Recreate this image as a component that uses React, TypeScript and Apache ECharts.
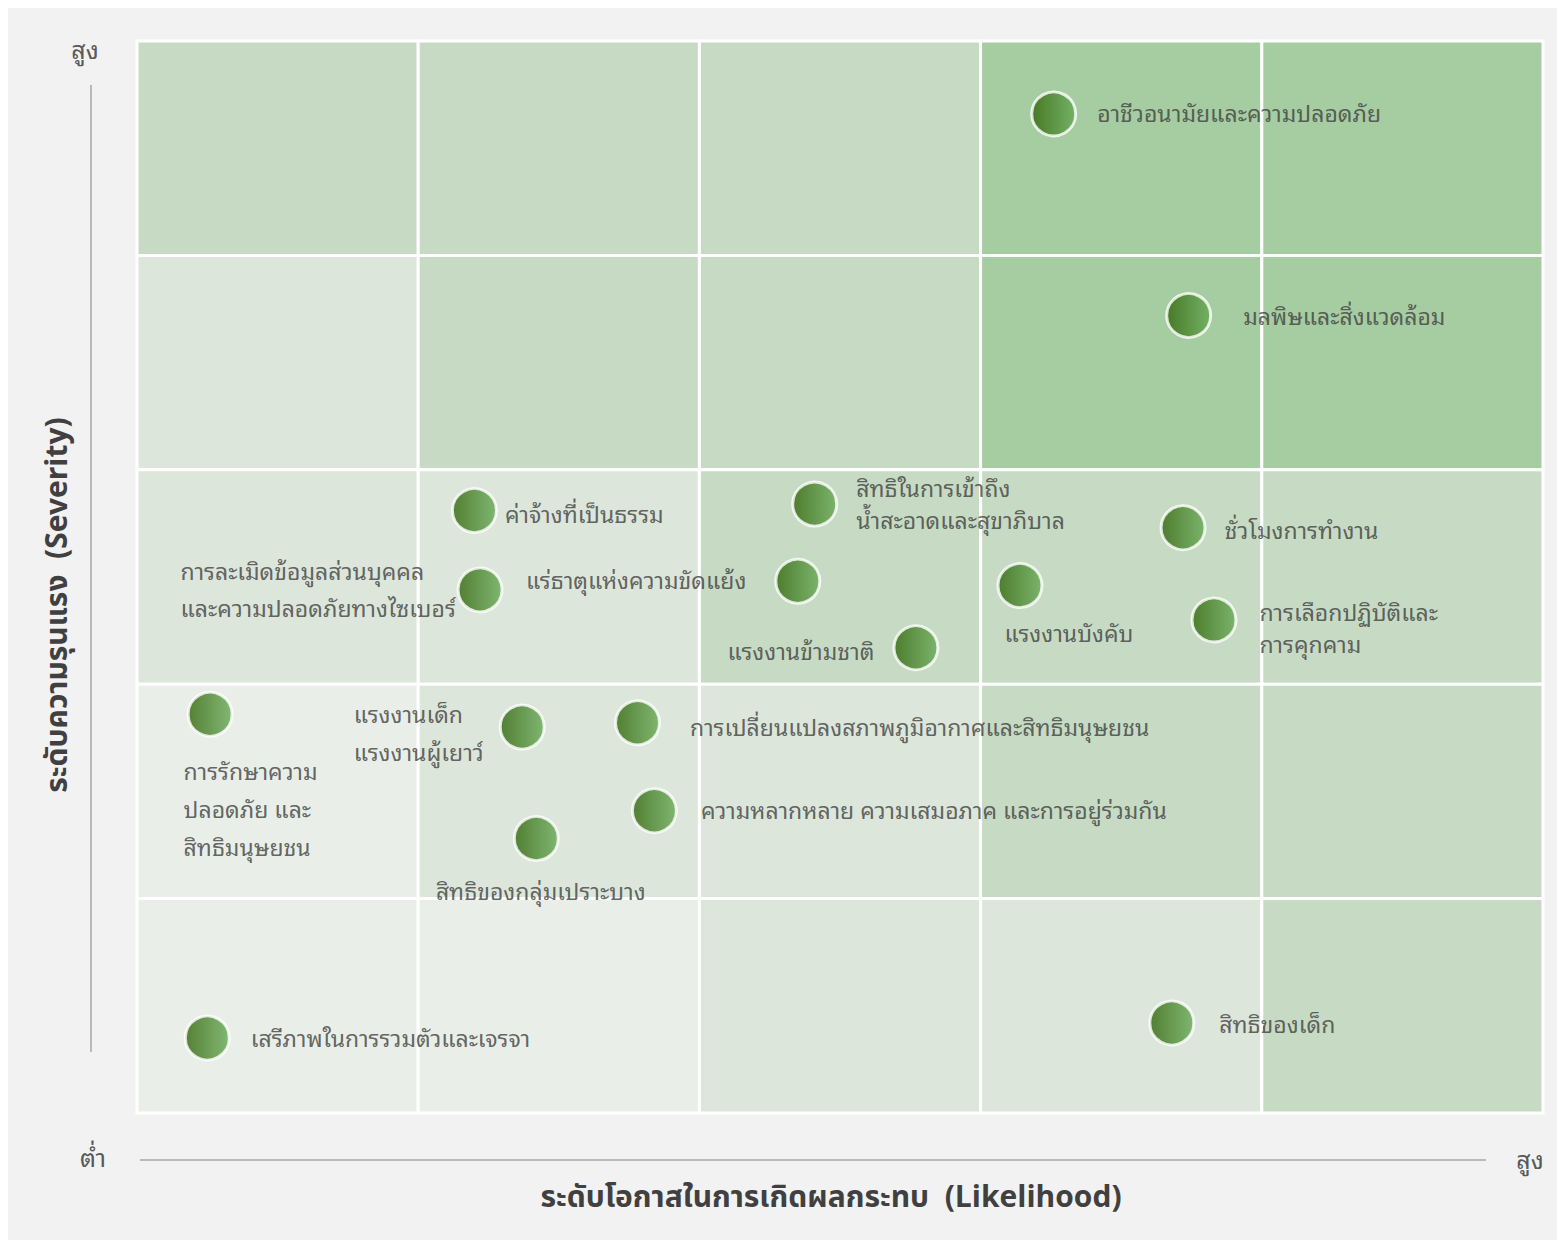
import React, { useEffect, useRef } from "react";
import * as echarts from "echarts";

// Risk names (labels)
const names: string[] = [
  "อาชีวอนามัยและความปลอดภัย",
  "มลพิษและสิ่งแวดล้อม",
  "ค่าจ้างที่เป็นธรรม",
  "สิทธิในการเข้าถึง\nน้ำสะอาดและสุขาภิบาล",
  "ชั่วโมงการทำงาน",
  "การละเมิดข้อมูลส่วนบุคคล\nและความปลอดภัยทางไซเบอร์",
  "แร่ธาตุแห่งความขัดแย้ง",
  "แรงงานบังคับ",
  "แรงงานข้ามชาติ",
  "การเลือกปฏิบัติและ\nการคุกคาม",
  "การรักษาความ\nปลอดภัย และ\nสิทธิมนุษยชน",
  "แรงงานเด็ก\nแรงงานผู้เยาว์",
  "การเปลี่ยนแปลงสภาพภูมิอากาศและสิทธิมนุษยชน",
  "ความหลากหลาย ความเสมอภาค และการอยู่ร่วมกัน",
  "สิทธิของกลุ่มเปราะบาง",
  "เสรีภาพในการรวมตัวและเจรจา",
  "สิทธิของเด็ก",
];
// Likelihood (x) values, 0..5
const likelihood: number[] = [3.26, 3.74, 1.2, 2.41, 3.72, 1.22, 2.35, 3.14, 2.77, 3.83, 0.26, 1.37, 1.78, 1.84, 1.42, 0.25, 3.68];
// Severity (y) values, 0..5
const severity: number[] = [4.66, 3.72, 2.81, 2.84, 2.73, 2.44, 2.48, 2.46, 2.17, 2.3, 1.86, 1.8, 1.82, 1.41, 1.28, 0.35, 0.42];

// Heat levels of the 5x5 matrix, rows from top (high severity) to bottom
const cellLevels: number[][] = [
  [2, 2, 2, 3, 3],
  [1, 2, 2, 3, 3],
  [1, 1, 2, 2, 2],
  [0, 1, 1, 2, 2],
  [0, 0, 1, 1, 2],
];
const levelColors: string[] = ["#e9efe8", "#dce6db", "#c7dbc4", "#a6cca1"];

const yTitle = "ระดับความรุนแรง  (Severity)";
const xTitle = "ระดับโอกาสในการเกิดผลกระทบ  (Likelihood)";
const highLabel = "สูง";
const lowLabel = "ต่ำ";

// label placement relative to dot center: [dx, dy, align, lineHeight]
const labelLayout: [number, number, string, number][] = [
  [45, -1, "left", 32],
  [56, 1, "left", 32],
  [32, 3, "left", 32],
  [43, 0, "left", 32],
  [43, 2, "left", 32],
  [-298, 0, "left", 37],
  [-50, -1, "right", 32],
  [-14, 47, "left", 32],
  [-40, 3, "right", 32],
  [47, 8, "left", 32],
  [-25, 95, "left", 38],
  [-167, 6, "left", 38],
  [54, 4, "left", 32],
  [48, -1, "left", 32],
  [6, 52, "center", 32],
  [45, 0, "left", 32],
  [49, 1, "left", 32],
];

const FONT = "'Noto Sans Thai Looped', 'Noto Looped Thai', Garuda, Loma, Sarabun, Tahoma, 'Noto Sans Thai', 'Noto Sans', sans-serif";
const TITLE_FONT = "'Noto Sans Thai', 'Noto Sans', sans-serif";
const SYM = 44;

export default function App() {
  const ref = useRef<HTMLDivElement>(null);
  useEffect(() => {
    document.documentElement.style.overflow = "hidden";
    if (!ref.current) return;
    const chart = echarts.init(ref.current, undefined, { renderer: "svg" });

    const cells: number[][] = [];
    cellLevels.forEach((row, r) => {
      row.forEach((lvl, c) => {
        cells.push([c, 4 - r, lvl]);
      });
    });

    const points = names.map((n, i) => {
      const [dx, dy, align, lh] = labelLayout[i];
      return {
        name: n,
        value: [likelihood[i], severity[i]],
        label: {
          show: true,
          formatter: n,
          position: [SYM / 2 + dx, SYM / 2 + dy],
          align,
          verticalAlign: "middle",
          lineHeight: lh,
        },
      };
    });

    chart.setOption({
      animation: false,
      backgroundColor: "#f2f2f2",
      textStyle: { fontFamily: FONT },
      grid: { left: 129, top: 33, width: 1406, height: 1072, containLabel: false },
      xAxis: {
        type: "value",
        min: 0,
        max: 5,
        interval: 1,
        axisLine: { show: false },
        axisTick: { show: false },
        axisLabel: { show: false },
        splitLine: { show: false },
      },
      yAxis: {
        type: "value",
        min: 0,
        max: 5,
        interval: 1,
        axisLine: { show: false },
        axisTick: { show: false },
        axisLabel: { show: false },
        splitLine: { show: false },
      },
      series: [
        {
          type: "custom",
          silent: true,
          z: 1,
          data: cells,
          renderItem: (params: any, api: any) => {
            const c = api.value(0);
            const r = api.value(1);
            const lvl = api.value(2);
            const p0 = api.coord([c, r + 1]);
            const p1 = api.coord([c + 1, r]);
            return {
              type: "rect",
              shape: { x: p0[0], y: p0[1], width: p1[0] - p0[0], height: p1[1] - p0[1] },
              style: { fill: levelColors[lvl], stroke: "#ffffff", lineWidth: 3 },
            };
          },
        },
        {
          type: "scatter",
          z: 3,
          symbol: "circle",
          symbolSize: SYM,
          itemStyle: {
            color: new echarts.graphic.LinearGradient(0, 0, 1, 0, [
              { offset: 0, color: "#2f6508" },
              { offset: 1, color: "#68aa56" },
            ]),
            borderColor: "#ffffff",
            borderWidth: 3,
          },
          label: {
            show: true,
            color: "#404040",
            fontSize: 23,
            fontFamily: FONT,
          },
          emphasis: { disabled: true },
          data: points,
        },
      ],
      graphic: [
        {
          type: "line",
          shape: { x1: 83, y1: 77, x2: 83, y2: 1044 },
          style: { stroke: "#a6a6a6", lineWidth: 1.5 },
        },
        {
          type: "line",
          shape: { x1: 132, y1: 1152, x2: 1478, y2: 1152 },
          style: { stroke: "#a6a6a6", lineWidth: 1.5 },
        },
        {
          type: "text",
          x: 77,
          y: 40,
          style: { text: highLabel, fill: "#595959", fontSize: 25, fontFamily: FONT, align: "center", verticalAlign: "middle" },
        },
        {
          type: "text",
          x: 85,
          y: 1148,
          style: { text: lowLabel, fill: "#595959", fontSize: 25, fontFamily: FONT, align: "center", verticalAlign: "middle" },
        },
        {
          type: "text",
          x: 1522,
          y: 1150,
          style: { text: highLabel, fill: "#595959", fontSize: 25, fontFamily: FONT, align: "center", verticalAlign: "middle" },
        },
        {
          type: "text",
          x: 50,
          y: 597,
          rotation: Math.PI / 2,
          style: { text: yTitle, fill: "#404040", fontSize: 30, fontWeight: "bold", fontFamily: TITLE_FONT, align: "center", verticalAlign: "middle" },
        },
        {
          type: "text",
          x: 823,
          y: 1190,
          style: { text: xTitle, fill: "#404040", fontSize: 30, fontWeight: "bold", fontFamily: TITLE_FONT, align: "center", verticalAlign: "middle" },
        },
      ],
    });
    return () => chart.dispose();
  }, []);
  return <div ref={ref} style={{ width: 1549, height: 1232 }} />;
}
